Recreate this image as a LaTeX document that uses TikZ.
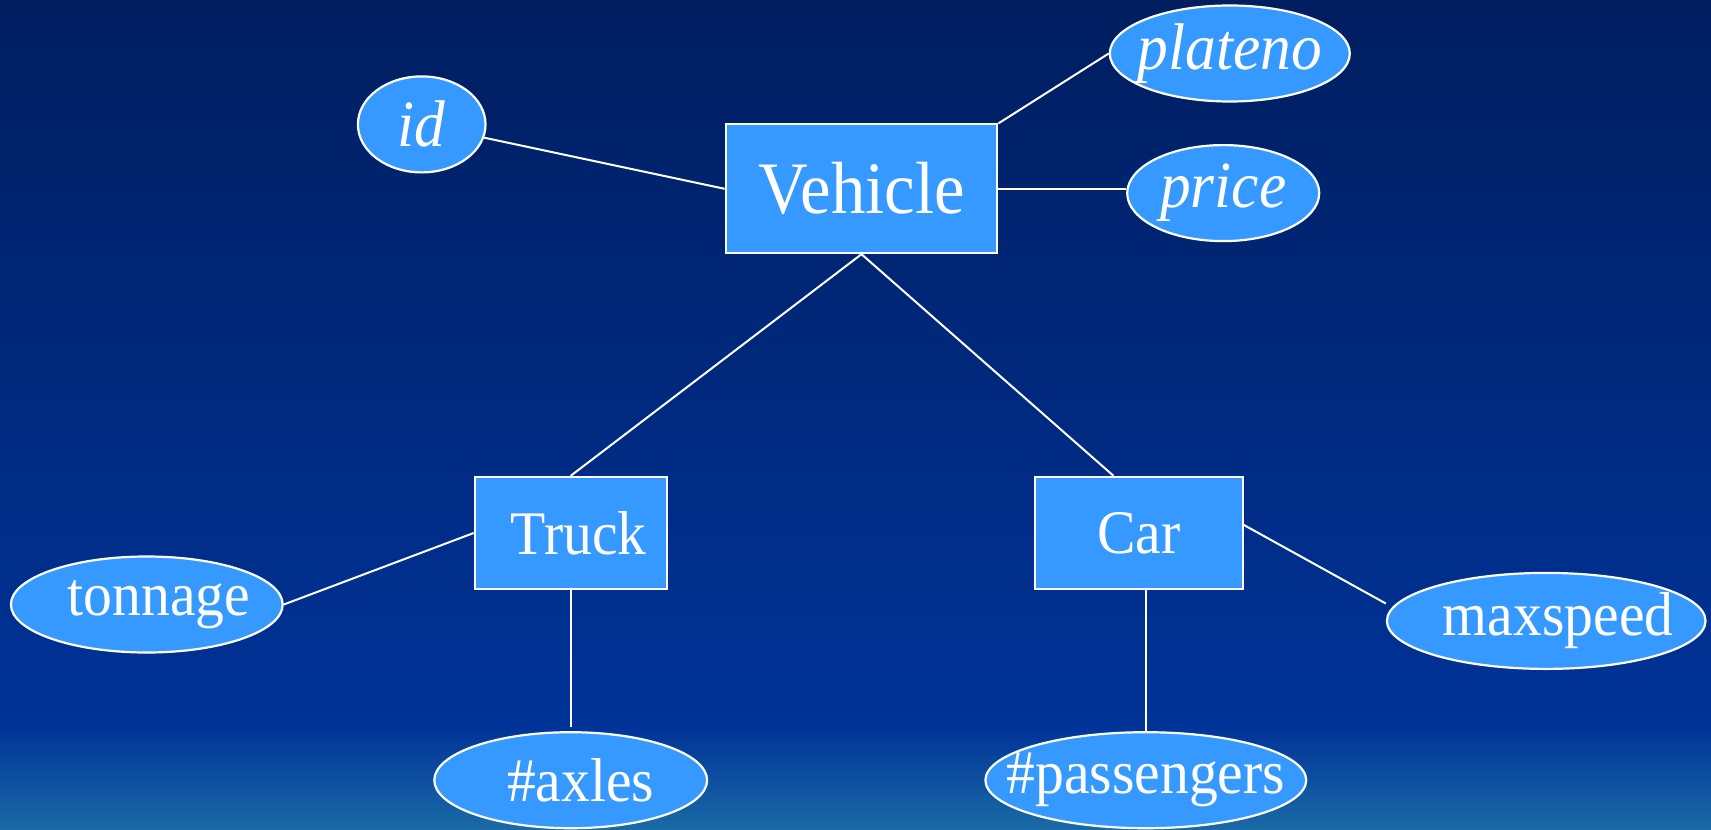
\documentclass[tikz,border=0pt]{standalone}
\usepackage{fontspec}
\setmainfont{Liberation Serif}[FakeStretch=0.93]
\usetikzlibrary{shapes.geometric,calc}
\definecolor{bgtop}{RGB}{0,30,96}
\definecolor{bgmid}{RGB}{0,51,152}
\definecolor{bgbot}{RGB}{26,106,166}
\definecolor{boxfill}{RGB}{54,153,255}
% zero-width label so that an ellipse keeps its given size
\newcommand{\attrtext}[1]{\makebox[0pt]{#1}}
\tikzset{
  entity/.style={draw=white, line width=1pt, fill=boxfill, rectangle, inner sep=0pt,
    text=white, font=\fontsize{31}{34}\selectfont},
  attr/.style={draw=white, line width=1.1pt, fill=boxfill, ellipse, inner sep=0pt,
    minimum height=48pt, text=white, font=\fontsize{31}{34}\selectfont},
  keyattr/.style={attr, font=\fontsize{33}{36}\selectfont\itshape},
  link/.style={draw=white, line width=1pt}
}
\begin{document}
\begin{tikzpicture}[x=0.5pt,y=-0.5pt]
  % background
  \useasboundingbox (0,0) rectangle (1711,829);
  \shade[top color=bgtop, bottom color=bgmid] (0,0) rectangle (1711,728);
  \shade[top color=bgmid, bottom color=bgbot] (0,726) rectangle (1711,829);

  % entities
  \node[entity, minimum width=135.9pt, minimum height=64.4pt,
        font=\fontsize{37}{40}\selectfont] (veh) at (861.5,188.8) {Vehicle};
  \node[entity, minimum width=96pt, minimum height=56.2pt] (truck) at (570.7,533) {\kern8pt Truck};
  \node[entity, minimum width=104.2pt, minimum height=56.2pt] (car) at (1138.7,533) {Car};

  % attributes
  \node[keyattr, minimum width=63.8pt] (id) at (421.7,124.4) {\attrtext{id}};
  \node[keyattr, minimum width=120pt] (plateno) at (1229.8,53.5) {\attrtext{plateno}};
  \node[keyattr, minimum width=96pt] (price) at (1223.2,193.1) {\attrtext{price}};
  \node[attr, minimum width=135.9pt] (tonnage) at (146.8,604.5) {\attrtext{\kern12pt tonnage}};
  \node[attr, minimum width=136.4pt] (axles) at (570.7,780.2) {\attrtext{\kern10pt\#axles}};
  \node[attr, minimum width=160.4pt] (pass) at (1145.8,780.2) {\attrtext{\#passengers}};
  \node[attr, minimum width=159.3pt] (maxspeed) at (1546.2,620.9) {\attrtext{\kern12pt maxspeed}};

  % connectors
  \draw[link] (id) -- (veh.west);
  \draw[link] (veh.north east) -- (plateno.west);
  \draw[link] (veh.east) -- (veh.east -| price.west);
  \draw[link] (veh.south) -- (truck.north);
  \draw[link] (veh.south) -- ($(car.north west)!0.38!(car.north east)$);
  \draw[link] (truck.west) -- (tonnage.east);
  \draw[link, shorten >=2pt] (truck.south) -- (axles.north);
  \draw[link] (pass.north |- car.south) -- (pass.north);
  \draw[link] ($(car.east)+(0,4pt)$) -- ($(maxspeed.west)+(0,8.7pt)$);
\end{tikzpicture}
\end{document}
